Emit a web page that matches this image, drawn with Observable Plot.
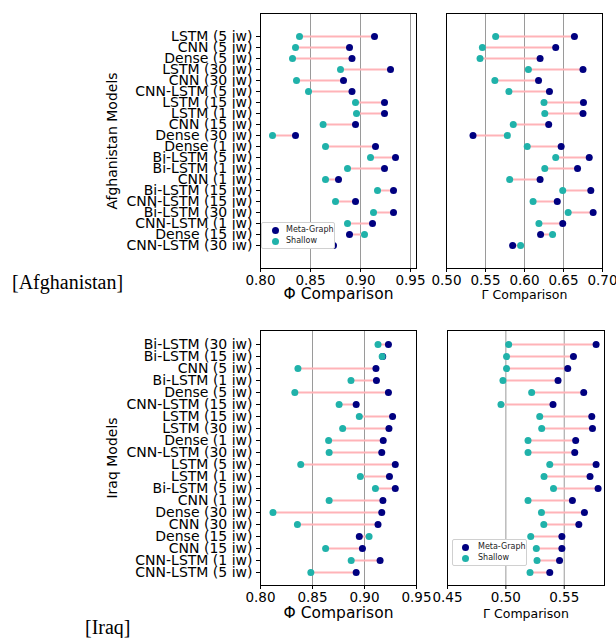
<!DOCTYPE html>
<html>
<head>
<meta charset="utf-8">
<script src="https://cdn.jsdelivr.net/npm/d3@7"></script>
<script src="https://cdn.jsdelivr.net/npm/@observablehq/plot@0.6"></script>
<style>
  body { margin: 0; background: white; }
  #root { position: relative; width: 616px; height: 638px; font-family: "DejaVu Sans", sans-serif; }
  .panel { position: absolute; }
  .caption { position: absolute; font-family: "Liberation Serif", "Times New Roman", serif; font-size: 20px; line-height: 20px; }
  .legend { position: absolute; background: white; border: 1px solid #d0d0d0; border-radius: 2px; font-family: "DejaVu Sans", sans-serif; font-size: 8px; color: #222; }
  .legend .row { position: absolute; white-space: nowrap; line-height: 10px; }
  .legend .sw { position: absolute; width: 7px; height: 7px; border-radius: 50%; }
</style>
</head>
<body>
<div id="root"></div>
<script>
// ---------------- DATA ----------------
const afgModels = ["LSTM (5 iw)", "CNN (5 iw)", "Dense (5 iw)", "LSTM (30 iw)", "CNN (30 iw)", "CNN-LSTM (5 iw)",
  "LSTM (15 iw)", "LSTM (1 iw)", "CNN (15 iw)", "Dense (30 iw)", "Dense (1 iw)", "Bi-LSTM (5 iw)", "Bi-LSTM (1 iw)",
  "CNN (1 iw)", "Bi-LSTM (15 iw)", "CNN-LSTM (15 iw)", "Bi-LSTM (30 iw)", "CNN-LSTM (1 iw)", "Dense (15 iw)", "CNN-LSTM (30 iw)"];
const afgPhiMeta    = [0.914, 0.889, 0.8915, 0.930, 0.883, 0.8915, 0.924, 0.924, 0.895, 0.835, 0.915, 0.935, 0.924, 0.878, 0.933, 0.895, 0.933, 0.912, 0.889, 0.873];
const afgPhiShallow = [0.839, 0.835, 0.832, 0.880, 0.836, 0.848, 0.895, 0.896, 0.8626, 0.812, 0.865, 0.910, 0.887, 0.865, 0.917, 0.875, 0.913, 0.887, 0.904, 0.865];
const afgGammaMeta    = [0.664, 0.640, 0.620, 0.675, 0.618, 0.632, 0.6756, 0.675, 0.631, 0.534, 0.647, 0.683, 0.668, 0.620, 0.685, 0.642, 0.688, 0.649, 0.6206, 0.5848];
const afgGammaShallow = [0.563, 0.546, 0.543, 0.605, 0.562, 0.580, 0.625, 0.626, 0.5856, 0.578, 0.6035, 0.640, 0.626, 0.581, 0.649, 0.611, 0.656, 0.6185, 0.636, 0.595];

const iraqModels = ["Bi-LSTM (30 iw)", "Bi-LSTM (15 iw)", "CNN (5 iw)", "Bi-LSTM (1 iw)", "Dense (5 iw)", "CNN-LSTM (15 iw)",
  "LSTM (15 iw)", "LSTM (30 iw)", "Dense (1 iw)", "CNN-LSTM (30 iw)", "LSTM (5 iw)", "LSTM (1 iw)", "Bi-LSTM (5 iw)",
  "CNN (1 iw)", "Dense (30 iw)", "CNN (30 iw)", "Dense (15 iw)", "CNN (15 iw)", "CNN-LSTM (1 iw)", "CNN-LSTM (5 iw)"];
const iraqPhiMeta    = [0.923, 0.9175, 0.911, 0.9115, 0.923, 0.892, 0.927, 0.9235, 0.918, 0.9166, 0.9296, 0.924, 0.9296, 0.9177, 0.9166, 0.913, 0.895, 0.898, 0.915, 0.892];
const iraqPhiShallow = [0.913, 0.917, 0.836, 0.887, 0.833, 0.8756, 0.895, 0.879, 0.8655, 0.866, 0.8387, 0.896, 0.9105, 0.866, 0.812, 0.8355, 0.9044, 0.8626, 0.8872, 0.8484];
const iraqGammaMeta    = [0.5773, 0.5579, 0.5530, 0.5447, 0.5667, 0.5404, 0.5736, 0.5742, 0.5598, 0.559, 0.5773, 0.5721, 0.579, 0.557, 0.5673, 0.5625, 0.548, 0.548, 0.546, 0.5376];
const iraqGammaShallow = [0.5024, 0.5006, 0.5006, 0.4975, 0.5221, 0.4958, 0.529, 0.5307, 0.519, 0.519, 0.5376, 0.5327, 0.5408, 0.519, 0.5305, 0.5325, 0.5213, 0.5261, 0.5267, 0.5207];

const phiTicks = [0.80, 0.85, 0.90, 0.95];
const afgGammaTicks = [0.50, 0.55, 0.60, 0.65, 0.70];
const iraqGammaTicks = [0.45, 0.50, 0.55];

const seriesNames = ["Meta-Graph", "Shallow"];
const seriesColors = ["navy", "lightseagreen"];

// ---------------- BUILD ----------------
function rowsOf(models, meta, shallow) {
  return models.map((m, i) => ({model: m, meta: meta[i], shallow: shallow[i]}));
}

function panel(o) {
  const rows = rowsOf(o.models, o.meta, o.shallow);
  const metaDots = Plot.dot(rows, {x: "meta", y: "model", fill: seriesColors[0], r: 3.5});
  const shallowDots = Plot.dot(rows, {x: "shallow", y: "model", fill: seriesColors[1], r: 3.5});
  const marks = [
    Plot.gridX(o.grid, {stroke: "#9a9a9a", strokeOpacity: 1, strokeWidth: 1}),
    Plot.link(rows, {x1: "shallow", x2: "meta", y1: "model", y2: "model", stroke: "#ffb3b8", strokeWidth: 2}),
    ...(o.metaOnTop ? [shallowDots, metaDots] : [metaDots, shallowDots]),
    Plot.axisX(o.ticks, {tickSize: 4, tickPadding: 3, tickFormat: d3.format(".2f"), label: null, fontSize: 13.5}),
    Plot.frame({stroke: "black", strokeWidth: 1}),
    Plot.text([o.xLabel], {frameAnchor: "bottom", dy: o.xLabelDy, fontSize: o.xLabelSize, text: d => d})
  ];
  if (o.yLabel) {
    marks.push(Plot.axisY({tickSize: 4, tickPadding: 4, label: null, fontSize: 14}));
    marks.push(Plot.text([o.yLabel], {frameAnchor: "left", textAnchor: "middle", dx: -148, rotate: -90, fontSize: 14, text: d => d}));
  }
  const svg = Plot.plot({
    width: o.width, height: o.height,
    marginLeft: o.ml, marginRight: o.mr, marginTop: o.mt, marginBottom: o.mb,
    style: {fontFamily: "DejaVu Sans, sans-serif", fontSize: "13.5px", background: "transparent", overflow: "visible", color: "black"},
    x: {domain: o.domain},
    y: {type: "point", domain: o.models, padding: o.padding, axis: null},
    marks
  });
  const div = document.createElement("div");
  div.className = "panel";
  div.style.left = o.left + "px";
  div.style.top = o.top + "px";
  div.appendChild(svg);
  document.getElementById("root").appendChild(div);
}

function legend(o) {
  const box = document.createElement("div");
  box.className = "legend";
  Object.assign(box.style, {left: o.left + "px", top: o.top + "px", width: o.w + "px", height: o.h + "px"});
  seriesNames.forEach((name, i) => {
    const sw = document.createElement("div");
    sw.className = "sw";
    Object.assign(sw.style, {left: (o.sx - 3.5) + "px", top: (o.r0 + i * o.dy - 3.5) + "px", background: seriesColors[i]});
    box.appendChild(sw);
    const t = document.createElement("div");
    t.className = "row";
    t.textContent = name;
    Object.assign(t.style, {left: o.tx + "px", top: (o.r0 + i * o.dy - 5) + "px"});
    box.appendChild(t);
  });
  document.getElementById("root").appendChild(box);
}

function caption(text, left, top) {
  const c = document.createElement("div");
  c.className = "caption";
  c.textContent = text;
  Object.assign(c.style, {left: left + "px", top: top + "px"});
  document.getElementById("root").appendChild(c);
}

// Afghanistan
panel({models: afgModels, meta: afgPhiMeta, shallow: afgPhiShallow, domain: [0.80, 0.956], ticks: phiTicks, grid: [0.85, 0.90, 0.95],
  left: 0, top: 0, width: 430, height: 308, ml: 260, mr: 14, mt: 13, mb: 40, padding: 1.17,
  xLabel: "Φ Comparison", xLabelSize: 15.5, xLabelDy: 30, yLabel: "Afghanistan Models", metaOnTop: true});
panel({models: afgModels, meta: afgGammaMeta, shallow: afgGammaShallow, domain: [0.50, 0.70], ticks: afgGammaTicks, grid: [0.55, 0.60, 0.65],
  left: 430, top: 0, width: 186, height: 308, ml: 16, mr: 14, mt: 13, mb: 40, padding: 1.17,
  xLabel: "Γ Comparison", xLabelSize: 12.5, xLabelDy: 30, metaOnTop: true});
// Iraq
panel({models: iraqModels, meta: iraqPhiMeta, shallow: iraqPhiShallow, domain: [0.80, 0.95], ticks: phiTicks, grid: [0.85, 0.90],
  left: 0, top: 310, width: 430, height: 328, ml: 260, mr: 14, mt: 20, mb: 53, padding: 1.1,
  xLabel: "Φ Comparison", xLabelSize: 15.5, xLabelDy: 32, yLabel: "Iraq Models", metaOnTop: false});
panel({models: iraqModels, meta: iraqGammaMeta, shallow: iraqGammaShallow, domain: [0.45, 0.5845], ticks: iraqGammaTicks, grid: [0.50, 0.55],
  left: 430, top: 310, width: 186, height: 328, ml: 17, mr: 12, mt: 20, mb: 53, padding: 1.1,
  xLabel: "Γ Comparison", xLabelSize: 12.5, xLabelDy: 32, metaOnTop: false});

legend({left: 261, top: 222, w: 72, h: 25, sx: 13, tx: 24, r0: 7, dy: 11});
legend({left: 452, top: 539, w: 73, h: 25, sx: 12, tx: 25, r0: 7, dy: 11});

caption("[Afghanistan]", 12, 272);
caption("[Iraq]", 85, 617);
</script>
</body>
</html>
